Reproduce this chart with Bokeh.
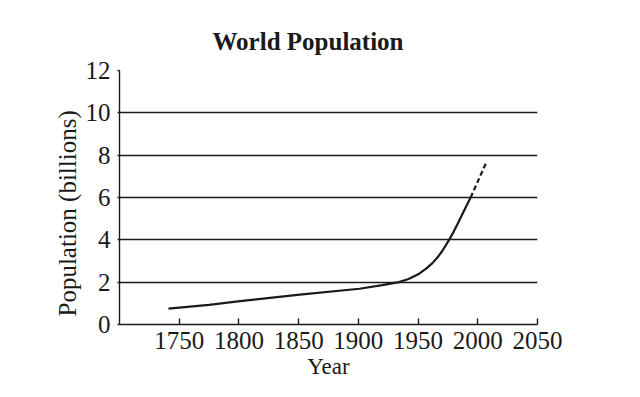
from bokeh.plotting import figure
from bokeh.embed import file_html
from bokeh.resources import INLINE
from bokeh.models import FixedTicker, Range1d, Title

# Data
years_solid = [1741, 1775, 1801, 1851, 1901, 1920, 1934, 1942, 1951, 1957, 1962,
               1966, 1970, 1976, 1980, 1984, 1990, 1994]
pop_solid = [0.75, 0.93, 1.10, 1.41, 1.69, 1.86, 2.00, 2.15, 2.40, 2.65, 2.90,
             3.15, 3.45, 4.00, 4.40, 4.85, 5.55, 6.00]
years_proj = [1994, 2007]
pop_proj = [6.00, 7.64]
x_ticks = [1750, 1800, 1850, 1900, 1950, 2000, 2050]
y_ticks = [0, 2, 4, 6, 8, 10, 12]

FONT = "Liberation Serif"
INK = "#1a1a1a"

p = figure(width=624, height=381, output_backend="svg", toolbar_location=None,
           x_range=Range1d(1700, 2050), y_range=Range1d(0, 12),
           min_border_left=119, min_border_right=87, min_border_top=70,
           min_border_bottom=56, title="World Population")

p.outline_line_color = None
p.background_fill_color = "white"
p.border_fill_color = "white"

p.title.text_font = FONT
p.title.text_font_size = "25px"
p.title.text_font_style = "bold"
p.title.text_color = INK
p.title.align = "left"
p.title.offset = 93
p.title.standoff = 31

p.xgrid.grid_line_color = None
p.ygrid.ticker = FixedTicker(ticks=y_ticks)
p.ygrid.grid_line_color = INK
p.ygrid.grid_line_width = 1.4

p.xaxis.ticker = FixedTicker(ticks=x_ticks)
p.yaxis.ticker = FixedTicker(ticks=y_ticks)
for ax in (p.xaxis[0], p.yaxis[0]):
    ax.axis_line_color = INK
    ax.axis_line_width = 1.4
    ax.major_tick_line_color = INK
    ax.major_tick_line_width = 1.4
    ax.minor_tick_line_color = None
    ax.major_label_text_font = FONT
    ax.major_label_text_font_size = "25px"
    ax.major_label_text_color = INK

p.xaxis.major_tick_in = 6
p.xaxis.major_tick_out = 0
p.xaxis.major_label_standoff = 7
p.xaxis.axis_label = "Year"
p.xaxis.axis_label_text_font = FONT
p.xaxis.axis_label_text_font_size = "23px"
p.xaxis.axis_label_text_font_style = "normal"
p.xaxis.axis_label_text_color = INK
p.xaxis.axis_label_standoff = 2

p.yaxis.major_tick_in = 0
p.yaxis.major_tick_out = 2
p.yaxis.major_label_standoff = 7

ylab = Title(text="Population (billions)", align="left", offset=8,
             text_font=FONT, text_font_size="25px", text_font_style="normal",
             text_color=INK, standoff=3)
p.add_layout(ylab, "left")

p.line(years_solid, pop_solid, line_color=INK, line_width=2.2)
p.line(years_proj, pop_proj, line_color=INK, line_width=2.2, line_dash="5 3")

open("out.html", "w").write(file_html(p, INLINE))
